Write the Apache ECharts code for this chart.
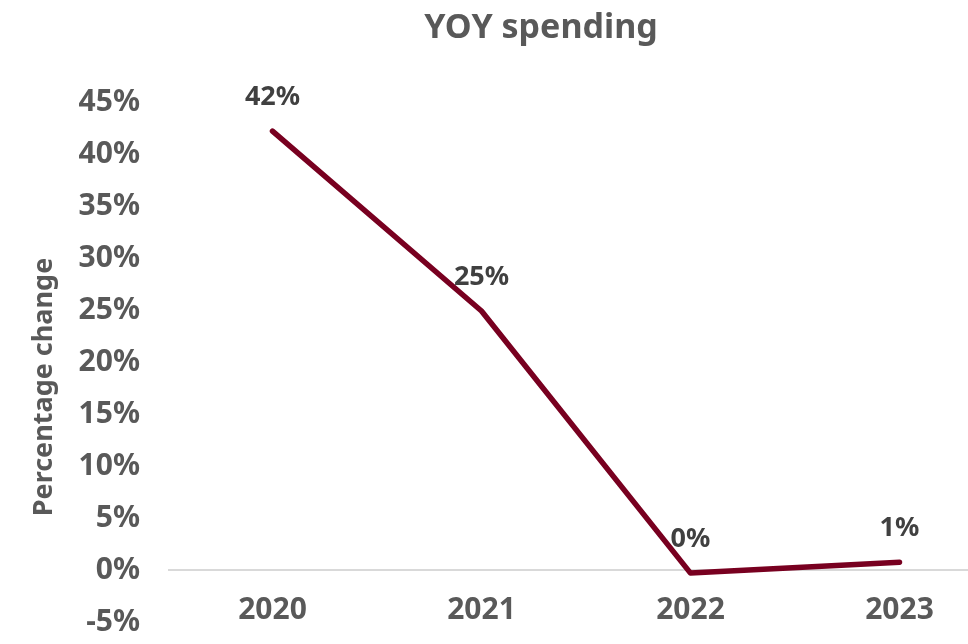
<!DOCTYPE html>
<html>
<head>
<meta charset="utf-8">
<script src="https://cdn.jsdelivr.net/npm/echarts@6/dist/echarts.min.js"></script>
<style>
  html, body { margin: 0; padding: 0; background: #ffffff; }
  #chart { width: 968px; height: 644px; }
</style>
</head>
<body>
<div id="chart"></div>
<script>
// Year-over-year spending change, in percent
const years = ['2020', '2021', '2022', '2023'];
const yoyChange = [42.2, 24.9, -0.3, 0.75];
const yMin = -5;
const yMax = 45;
const yStep = 5;

const textGrey = '#595959';
const lineRed = '#780020';

const chart = echarts.init(document.getElementById('chart'));

chart.setOption({
  backgroundColor: '#ffffff',
  animation: false,
  title: {
    text: 'YOY spending',
    left: 536,
    top: 6,
    textAlign: 'center',
    textStyle: {
      fontFamily: 'Noto Sans',
      fontWeight: 'bold',
      fontSize: 34,
      color: textGrey
    }
  },
  graphic: [{
    type: 'text',
    x: 44,
    y: 387,
    rotation: Math.PI / 2,
    style: {
      text: 'Percentage change',
      fontFamily: 'Noto Sans',
      fontWeight: 'bold',
      fontSize: 27,
      fill: textGrey,
      align: 'center',
      verticalAlign: 'middle'
    }
  }],
  grid: {
    left: 168,
    right: -36,
    top: 102,
    bottom: 22,
    containLabel: false,
    outerBoundsMode: 'none'
  },
  xAxis: {
    type: 'category',
    data: years,
    boundaryGap: true,
    axisLine: { show: false, onZero: false },
    axisTick: { show: false },
    axisLabel: {
      margin: -27,
      fontFamily: 'Noto Sans',
      fontWeight: 'bold',
      fontSize: 30,
      color: textGrey
    },
    splitLine: { show: false }
  },
  yAxis: {
    type: 'value',
    min: yMin,
    max: yMax,
    interval: yStep,
    axisLine: { show: false },
    axisTick: { show: false },
    splitLine: { show: false },
    axisLabel: {
      margin: 28,
      formatter: v => v + '%',
      fontFamily: 'Noto Sans',
      fontWeight: 'bold',
      fontSize: 30,
      color: textGrey
    }
  },
  series: [{
    type: 'line',
    data: yoyChange,
    symbol: 'circle',
    symbolSize: 1,
    showSymbol: true,
    z: 3,
    lineStyle: { color: lineRed, width: 5.5, cap: 'round', join: 'round' },
    itemStyle: { color: 'rgba(0,0,0,0)' },
    label: {
      show: true,
      position: 'top',
      distance: 20,
      formatter: p => Math.round(p.value) + '%',
      fontFamily: 'Noto Sans',
      fontWeight: 'bold',
      fontSize: 27,
      color: '#404040'
    },
    // horizontal axis line at zero
    markLine: {
      silent: true,
      symbol: 'none',
      z: 1,
      label: { show: false },
      lineStyle: { color: '#d9d9d9', width: 2, type: 'solid' },
      data: [{ yAxis: 0 }]
    }
  }]
});
</script>
</body>
</html>
